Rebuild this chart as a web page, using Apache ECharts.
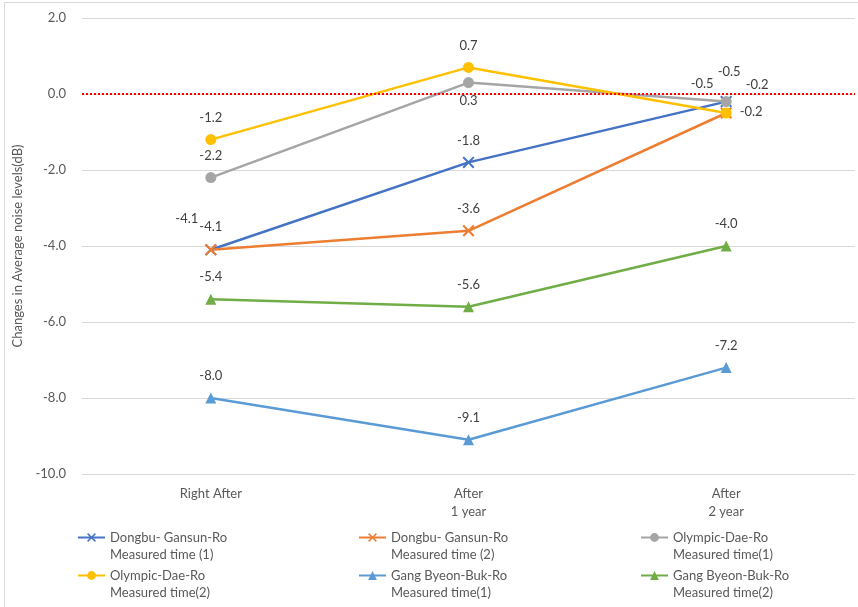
<!DOCTYPE html>
<html>
<head>
<meta charset="utf-8">
<title>Changes in Average noise levels</title>
<script src="https://cdn.jsdelivr.net/npm/echarts@6/dist/echarts.min.js"></script>
<style>
  html, body { margin: 0; padding: 0; background: #ffffff; }
  #chart { width: 858px; height: 607px; }
</style>
</head>
<body>
<div id="chart"></div>
<script>
// Measurement periods on the category axis
const categories = ['Right After', 'After\n1 year', 'After\n2 year'];

// Change in average noise level (dB) per road and measurement run
const dongbuTime1 = [-4.1, -1.8, -0.2];
const dongbuTime2 = [-4.1, -3.6, -0.5];
const olympicTime1 = [-2.2, 0.3, -0.2];
const olympicTime2 = [-1.2, 0.7, -0.5];
const gangTime1 = [-8.0, -9.1, -7.2];
const gangTime2 = [-5.4, -5.6, -4.0];

// Series names (two-line legend entries)
const seriesNames = [
  'Dongbu- Gansun-Ro\nMeasured time (1)',
  'Dongbu- Gansun-Ro\nMeasured time (2)',
  'Olympic-Dae-Ro\nMeasured time(1)',
  'Olympic-Dae-Ro\nMeasured time(2)',
  'Gang Byeon-Buk-Ro\nMeasured time(1)',
  'Gang Byeon-Buk-Ro\nMeasured time(2)'
];

// Value axis ticks
const yMin = -10, yMax = 2, yStep = 2;

const FONT = 'Lato, "Liberation Sans", sans-serif';
const TEXT = '#595959';

// Filled "x" marker outline
const CROSS = 'path://M0,1.2L1.2,0L5,3.8L8.8,0L10,1.2L6.2,5L10,8.8L8.8,10L5,6.2L1.2,10L0,8.8L3.8,5Z';

// Label placement around each point (pixels from the point centre)
const UP = [0, -22];
const labelShift = {
  dongbu1: [[-24, -31], UP, [31, -17]],
  dongbu2: [[0, -23], UP, [-24, -29]],
  olympic1: [UP, [0, 18], [25, 10]],
  olympic2: [UP, UP, [3, -41]],
  gang1: [UP, UP, UP],
  gang2: [UP, UP, UP]
};

function makeSeries(name, values, color, symbol, size, shifts, extra) {
  return Object.assign({
    type: 'line',
    name: name,
    data: values.map((v, i) => ({ value: v, label: { offset: shifts[i] } })),
    symbol: symbol,
    symbolSize: size,
    lineStyle: { color: color, width: 2.5 },
    itemStyle: { color: color },
    label: {
      show: true,
      position: 'inside',
      color: '#404040',
      fontFamily: FONT,
      fontSize: 13,
      formatter: p => p.value.toFixed(1)
    },
    emphasis: { disabled: true }
  }, extra || {});
}

const series = [
  makeSeries(seriesNames[0], dongbuTime1, '#4472C4', CROSS, 12, labelShift.dongbu1, {
    markLine: {
      silent: true,
      symbol: 'none',
      label: { show: false },
      lineStyle: { color: '#FF0000', type: 'dotted', width: 2 },
      data: [{ yAxis: 0 }]
    }
  }),
  makeSeries(seriesNames[1], dongbuTime2, '#ED7D31', CROSS, 12, labelShift.dongbu2),
  makeSeries(seriesNames[2], olympicTime1, '#A5A5A5', 'circle', 11, labelShift.olympic1),
  makeSeries(seriesNames[3], olympicTime2, '#FFC000', 'circle', 11, labelShift.olympic2),
  makeSeries(seriesNames[4], gangTime1, '#5B9BD5', 'triangle', 11, labelShift.gang1),
  makeSeries(seriesNames[5], gangTime2, '#70AD47', 'triangle', 11, labelShift.gang2)
];

// Legend laid out as three columns by two rows; a leading blank line
// keeps the first text line level with the marker
const legendSpots = [[77, 0], [358, 0], [640, 0], [77, 1], [358, 1], [640, 1]];
const legends = seriesNames.map((name, k) => ({
  data: [name],
  left: legendSpots[k][0],
  top: 512 + legendSpots[k][1] * 38,
  padding: 0,
  itemWidth: 27,
  itemHeight: 11,
  selectedMode: false,
  formatter: n => '\n' + n,
  textStyle: {
    color: TEXT,
    fontFamily: FONT,
    fontSize: 13,
    lineHeight: 17
  }
}));

const chart = echarts.init(document.getElementById('chart'), null, { renderer: 'canvas' });
chart.setOption({
  animation: false,
  backgroundColor: '#ffffff',
  grid: { left: 82, right: 3, top: 18, bottom: 133 },
  legend: legends,
  xAxis: {
    type: 'category',
    data: categories,
    boundaryGap: true,
    axisLine: { show: false },
    axisTick: { show: false },
    axisLabel: {
      color: TEXT,
      fontFamily: FONT,
      fontSize: 13,
      lineHeight: 18,
      margin: 11
    }
  },
  yAxis: {
    type: 'value',
    min: yMin,
    max: yMax,
    interval: yStep,
    name: 'Changes in Average noise levels(dB)',
    nameLocation: 'middle',
    nameGap: 51,
    nameTextStyle: { color: TEXT, fontFamily: FONT, fontSize: 13 },
    axisLine: { show: false },
    axisTick: { show: false },
    axisLabel: {
      color: TEXT,
      fontFamily: FONT,
      fontSize: 13,
      margin: 16,
      formatter: v => v.toFixed(1)
    },
    splitLine: { lineStyle: { color: '#D9D9D9', width: 1 } }
  },
  graphic: [{
    type: 'rect',
    silent: true,
    shape: { x: 4.5, y: 2.5, width: 862, height: 620 },
    style: { fill: 'none', stroke: '#D9D9D9', lineWidth: 1 }
  }],
  series: series
});
</script>
</body>
</html>
